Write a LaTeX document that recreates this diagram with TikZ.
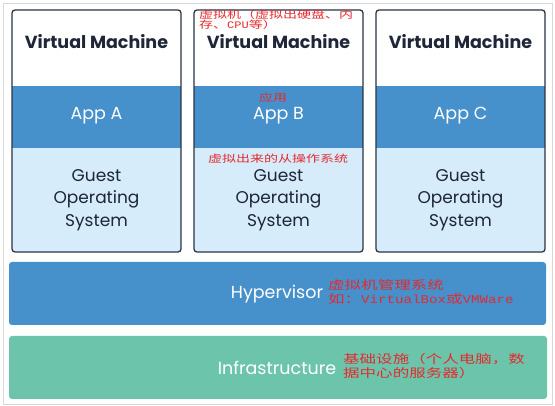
\documentclass[tikz,border=0pt]{standalone}
\usepackage{fontspec}
\setmainfont{Poppins}
\newfontfamily\cjk[FakeStretch=1.4]{Noto Sans CJK SC}
\newfontfamily\latmono[FakeStretch=1.2]{Liberation Mono}
\definecolor{appblue}{HTML}{4690CB}
\definecolor{guestblue}{HTML}{D6ECFB}
\definecolor{infragreen}{HTML}{6CC5AB}
\definecolor{frameline}{HTML}{2B3445}
\definecolor{navytext}{HTML}{1E2638}
\definecolor{annot}{HTML}{E42A2E}
\definecolor{outerline}{HTML}{D8D8D8}
\begin{document}
\begin{tikzpicture}[x=1pt,y=-1pt,
  vmtitle/.style={font=\fontsize{17.5}{18}\selectfont\bfseries, text=navytext},
  apptext/.style={font=\fontsize{17.5}{18}\selectfont, text=white},
  guesttext/.style={font=\fontsize{17}{22.5}\selectfont, text=navytext, align=center},
  layertext/.style={font=\fontsize{17.5}{18}\selectfont, text=white},
  note/.style={text=annot, align=left, inner sep=0pt, anchor=west},
  smallnote/.style={note, font=\cjk\fontsize{10}{10.5}\selectfont},
  bignote/.style={note, font=\cjk\fontsize{11.8}{14}\selectfont},
]
\useasboundingbox (0,0) rectangle (555,406);
\fill[white] (0,0) rectangle (555,406);
\draw[outerline, line width=0.8pt] (3,3) rectangle (552,404);

% VM boxes
\foreach \i/\xl/\lab in {1/12/A, 2/194/B, 3/376/C} {
  \pgfmathsetmacro{\xr}{\xl+169}
  \fill[guestblue, rounded corners=3pt] (\xl,10) rectangle (\xr,252);
  \fill[white, rounded corners=3pt] (\xl,10) rectangle (\xr,30);
  \fill[white] (\xl,20) rectangle (\xr,86);
  \fill[appblue] (\xl,86) rectangle (\xr,148);
  \draw[frameline, line width=1.3pt, rounded corners=3pt] (\xl,10) rectangle (\xr,252);
  \node[vmtitle] (vm\i) at (\xl+84.5,42) {Virtual Machine};
  \node[apptext] (app\i) at (\xl+84.5,116) {App \lab};
  \node[guesttext] (os\i) at (\xl+84.5,200) {Guest\\Operating\\System};
}

% Hypervisor
\fill[appblue, rounded corners=3pt] (9,262) rectangle (546,325);
\node[layertext] (hyp) at (277,294) {Hypervisor};
% Infrastructure
\fill[infragreen, rounded corners=3pt] (9,336) rectangle (547,399);
\node[layertext] (infra) at (277,368) {Infrastructure};

% annotations
\node[smallnote] (n1) at (199,19.5) {虚拟机（虚拟出硬盘、内\\存、{\latmono CPU}等）};
\node[smallnote] (n2) at (259,98) {应用};
\node[smallnote] (n3) at (208,159) {虚拟出来的从操作系统};
\node[bignote] (n4) at (328,291.5) {虚拟机管理系统\\如：{\latmono VirtualBox}或{\latmono VMWare}};
\node[bignote] (n5) at (343,366.5) {基础设施（个人电脑，数\\据中心的服务器）};
\end{tikzpicture}
\end{document}
